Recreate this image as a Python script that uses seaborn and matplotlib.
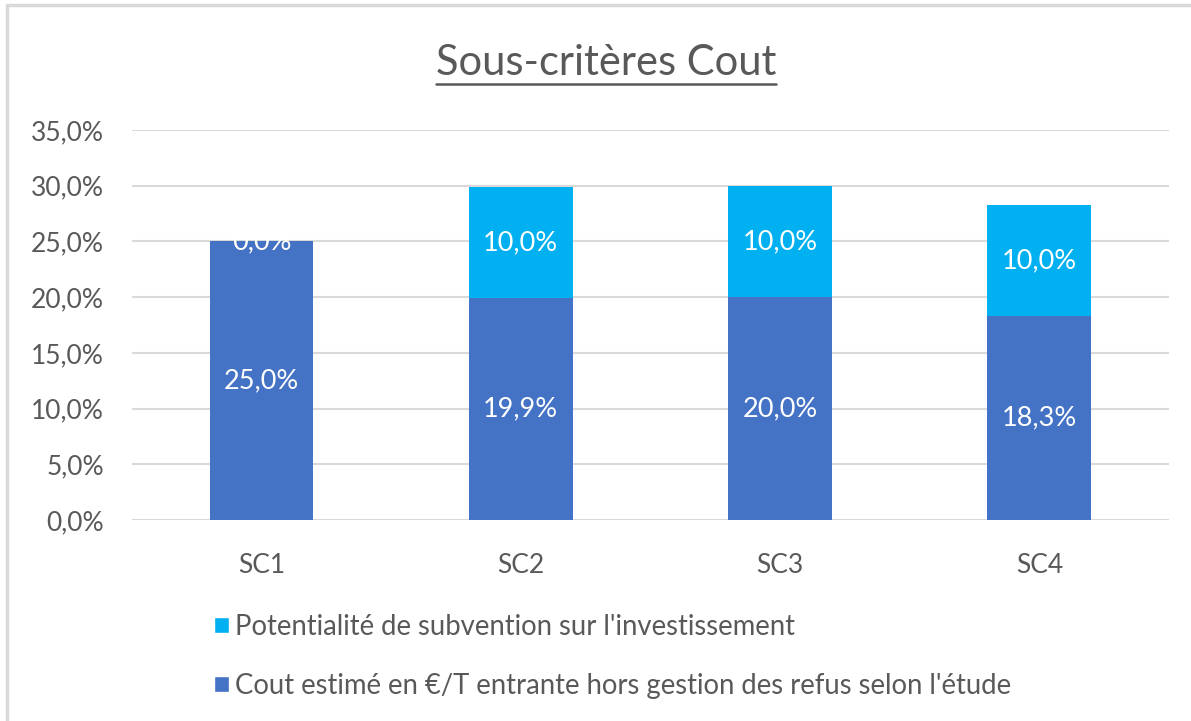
import matplotlib
matplotlib.use("Agg")
import matplotlib.pyplot as plt
from matplotlib.lines import Line2D
from matplotlib.patches import Patch
from matplotlib.ticker import FuncFormatter, MultipleLocator
import numpy as np
import pandas as pd
import seaborn as sns

# Data
categories = ["SC1", "SC2", "SC3", "SC4"]
cout_estime = [25.0, 19.9, 20.0, 18.3]
subvention = [0.0, 10.0, 10.0, 10.0]
label_cout = "Cout estimé en €/T entrante hors gestion des refus selon l'étude"
label_subv = "Potentialité de subvention sur l'investissement"
title = "Sous-critères Cout"

DARK = "#4472C4"
LIGHT = "#00B0F0"
GRID = "#D9D9D9"
TEXT = "#595959"

sns.set_theme(style="white")
plt.rcParams["font.family"] = ["Lato", "DejaVu Sans"]

df = pd.DataFrame({"cat": categories, "cout": cout_estime, "subv": subvention})
df["total"] = df["cout"] + df["subv"]

fig = plt.figure(figsize=(11.91, 7.21), dpi=100)
ax = fig.add_axes([0.1108, 0.2788, 0.8707, 0.5409])

# Stacked bars: totals behind, bottom series in front
sns.barplot(data=df, x="cat", y="total", color=LIGHT, saturation=1, width=0.4,
            ax=ax, zorder=2, linewidth=0)
sns.barplot(data=df, x="cat", y="cout", color=DARK, saturation=1, width=0.4,
            ax=ax, zorder=3, linewidth=0)

# Segment value labels
for i, row in df.iterrows():
    ax.text(i, row["cout"] / 2, f"{row['cout']:.1f}%".replace(".", ","),
            ha="center", va="center", color="white", fontsize=19.5, zorder=5)
    ax.text(i, row["cout"] + row["subv"] / 2, f"{row['subv']:.1f}%".replace(".", ","),
            ha="center", va="center", color="white", fontsize=19.5, zorder=5)

ax.set_xlim(-0.5, 3.5)
ax.set_ylim(0, 35)
ax.yaxis.set_major_locator(MultipleLocator(5))
ax.yaxis.set_major_formatter(FuncFormatter(lambda v, p: f"{v:.1f}%".replace(".", ",")))
ax.grid(axis="y", color=GRID, linewidth=1.5, zorder=0)
ax.set_axisbelow(True)
for s in ax.spines.values():
    s.set_visible(False)
ax.tick_params(axis="y", length=0, pad=20, labelsize=19, labelcolor=TEXT)
ax.tick_params(axis="x", length=0, pad=24, labelsize=19, labelcolor=TEXT)
ax.set_xlabel("")
ax.set_ylabel("")

# Title with underline
t = fig.text(0.509, 0.913, title, ha="center", va="center", fontsize=30, color=TEXT)
fig.canvas.draw()
bb = t.get_window_extent()
fw, fh = fig.bbox.width, fig.bbox.height
y_ul = (bb.y0 - 2) / fh
fig.add_artist(Line2D([bb.x0 / fw, bb.x1 / fw], [y_ul, y_ul], color=TEXT, lw=1.8))

# Legend
handles = [Patch(facecolor=LIGHT, label=label_subv), Patch(facecolor=DARK, label=label_cout)]
fig.legend(handles=handles, loc="upper left", bbox_to_anchor=(214 / fw, 1 - 614 / fh),
           frameon=False, fontsize=19.8, labelcolor=TEXT, handlelength=0.53,
           handleheight=0.53, handletextpad=0.22, labelspacing=1.2, borderpad=0,
           borderaxespad=0)

# Chart frame (top and left edges)
fig.add_artist(Line2D([7 / fw, 1.0], [1 - 5 / fh, 1 - 5 / fh], color=GRID, lw=2.5))
fig.add_artist(Line2D([7 / fw, 7 / fw], [0, 1 - 5 / fh], color=GRID, lw=2.5))

fig.savefig("out.png", dpi=100, facecolor="white")
